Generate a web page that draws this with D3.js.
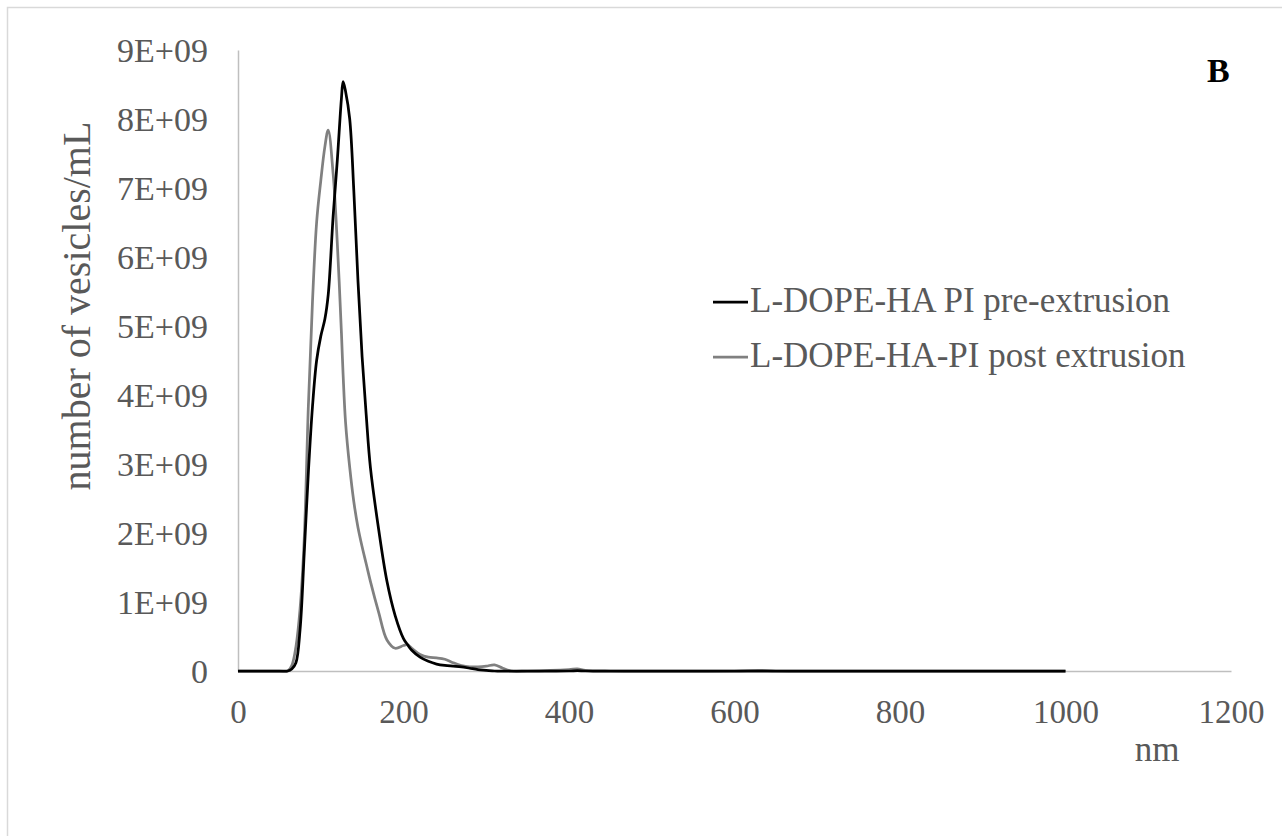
<!DOCTYPE html>
<html>
<head>
<meta charset="utf-8">
<script src="https://cdn.jsdelivr.net/npm/d3@7"></script>
<style>
  html, body { margin: 0; padding: 0; background: #fff; }
  svg { display: block; }
</style>
</head>
<body>
<svg id="chart" width="1282" height="836"></svg>
<script>
// Particle size (nm) at which both distributions are sampled
const sizeNm = [0, 50, 60, 65, 70, 75, 80, 85, 90, 95, 100, 105, 109, 115, 120, 125, 127, 130, 135, 140,
  145, 150, 155, 160, 170, 180, 190, 200, 205, 210, 220, 230, 240, 250, 260, 270, 280, 290, 300, 310,
  320, 330, 350, 400, 410, 420, 450, 500, 600, 630, 650, 700, 800, 900, 1000];

// Concentration, in units of 1E+09 vesicles/mL
const preExtrusion = [0, 0, 0, 0.03, 0.12, 0.6, 1.7, 2.87, 3.83, 4.5, 4.85, 5.1, 5.45, 6.6, 7.4, 8.3, 8.54, 8.4, 8.0, 6.95,
  5.65, 4.55, 3.7, 2.95, 2.05, 1.3, 0.8, 0.47, 0.38, 0.3, 0.2, 0.14, 0.1, 0.08, 0.07, 0.06, 0.04, 0.02, 0.01, 0,
  0, 0, 0, 0, 0.005, 0, 0, 0, 0, 0, 0, 0, 0, 0, 0];

const postExtrusion = [0, 0, 0, 0.08, 0.35, 0.9, 1.9, 3.83, 5.35, 6.5, 7.1, 7.6, 7.84, 7.2, 6.2, 4.9, 4.3, 3.6, 2.95, 2.45,
  2.08, 1.8, 1.55, 1.3, 0.85, 0.45, 0.33, 0.37, 0.38, 0.33, 0.24, 0.2, 0.19, 0.17, 0.12, 0.08, 0.06, 0.06, 0.07, 0.09,
  0.04, 0, 0, 0.02, 0.03, 0.01, 0, 0, 0, 0.01, 0, 0, 0, 0, 0];

const seriesNames = ["L-DOPE-HA PI pre-extrusion", "L-DOPE-HA-PI post extrusion"];
const seriesColors = ["#000000", "#808080"];

const xTicks = [0, 200, 400, 600, 800, 1000, 1200];
const yTicks = [0, 1, 2, 3, 4, 5, 6, 7, 8, 9];
const yTickLabels = ["0", "1E+09", "2E+09", "3E+09", "4E+09", "5E+09", "6E+09", "7E+09", "8E+09", "9E+09"];

const serifFont = "'Liberation Serif', 'Times New Roman', Tinos, serif";
const svg = d3.select("#chart");
const textColor = "#595959";
const axisColor = "#bfbfbf";

// chart frame
svg.append("rect")
  .attr("x", 7.5).attr("y", 7.5)
  .attr("width", 1290).attr("height", 840)
  .attr("fill", "#fff").attr("stroke", "#d9d9d9").attr("stroke-width", 1.5);

const x = d3.scaleLinear().domain([0, 1200]).range([238, 1231]);
const y = d3.scaleLinear().domain([0, 9]).range([671, 50]);

// x axis
const xAxis = svg.append("g")
  .attr("transform", `translate(0,${y(0)})`)
  .call(d3.axisBottom(x).tickValues(xTicks).tickSize(0).tickPadding(0).tickFormat(d3.format("d")));
xAxis.select(".domain").attr("stroke", axisColor).attr("stroke-width", 1.5);
xAxis.selectAll("text")
  .attr("y", 52).attr("dy", 0)
  .attr("fill", textColor).style("font-size", "33px")
  .style("font-family", serifFont);

// y axis
const yAxis = svg.append("g")
  .attr("transform", `translate(${x(0)},0)`)
  .call(d3.axisLeft(y).tickValues(yTicks).tickSize(0).tickPadding(30)
    .tickFormat((d, i) => yTickLabels[i]));
yAxis.select(".domain").attr("stroke", axisColor).attr("stroke-width", 1.5);
yAxis.selectAll("text")
  .attr("dy", "0.34em")
  .attr("fill", textColor).style("font-size", "34px")
  .style("font-family", serifFont);

// axis titles
svg.append("text")
  .attr("transform", "translate(90,306) rotate(-90)")
  .attr("text-anchor", "middle")
  .attr("fill", textColor).style("font-size", "40px").style("font-family", serifFont)
  .text("number of vesicles/mL");

svg.append("text")
  .attr("x", 1157).attr("y", 761)
  .attr("text-anchor", "middle")
  .attr("fill", textColor).style("font-size", "35px").style("font-family", serifFont)
  .text("nm");

// panel letter
svg.append("text")
  .attr("x", 1207).attr("y", 82)
  .attr("fill", "#000").style("font-size", "34px").style("font-weight", "bold")
  .style("font-family", serifFont)
  .text("B");

// distribution curves
const line = d3.line()
  .x(d => x(d[0]))
  .y(d => y(d[1]))
  .curve(d3.curveCatmullRom.alpha(0.5));

const series = [postExtrusion, preExtrusion];
const colors = [seriesColors[1], seriesColors[0]];
series.forEach((vals, i) => {
  svg.append("path")
    .datum(sizeNm.map((s, j) => [s, vals[j]]))
    .attr("fill", "none")
    .attr("stroke", colors[i])
    .attr("stroke-width", 2.75)
    .attr("stroke-linejoin", "round")
    .attr("d", line);
});

// legend
const legend = svg.append("g");
seriesNames.forEach((name, i) => {
  const ly = 302 + i * 55;
  legend.append("line")
    .attr("x1", 713).attr("x2", 748)
    .attr("y1", ly).attr("y2", ly)
    .attr("stroke", seriesColors[i]).attr("stroke-width", 2.75);
  legend.append("text")
    .attr("x", 750).attr("y", ly + 10)
    .attr("fill", textColor).style("font-size", "35px").style("font-family", serifFont)
    .text(name);
});
</script>
</body>
</html>
